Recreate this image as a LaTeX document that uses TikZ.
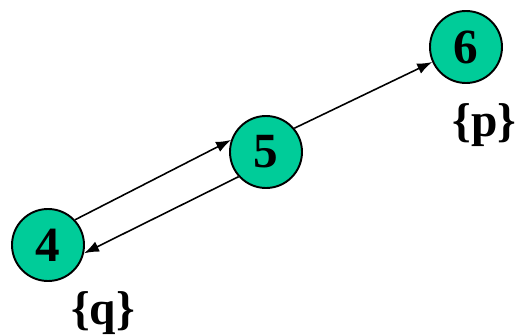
\documentclass[tikz,border=0pt]{standalone}
\usepackage{fontspec}
\setmainfont{Liberation Serif}
\usepackage{xcolor}
\usepackage{tikz}
\usetikzlibrary{arrows.meta, positioning}
\definecolor{stategreen}{RGB}{0,204,153}

\begin{document}
\begin{tikzpicture}[
    state/.style={draw, circle, line width=1.1pt, fill=stategreen, minimum size=1.44cm, inner sep=0pt, font=\fontsize{28}{30}\selectfont\bfseries},
    setlabel/.style={font=\fontsize{27}{30}\selectfont\bfseries},
    arrow/.style={line width=0.9pt,-{Latex[length=0.3cm,width=0.22cm]}}
]
\useasboundingbox (0,0) rectangle (10.32,6.72);
\node (s4) [state] at (0.96,1.82) {4};
\node (s5) [state] at (5.32,3.68) {5};
\node (s6) [state] at (9.32,5.78) {6};
\node (q4) [setlabel] at (2.06,0.46) {\{q\}};
\node (p6) [setlabel] at (9.69,4.22) {\{p\}};

\draw[arrow] (s4.43) -- (s5.161);
\draw[arrow] (s5.222) -- (s4.347);
\draw[arrow] (s5.40) -- (s6.204);
\end{tikzpicture}
\end{document}
